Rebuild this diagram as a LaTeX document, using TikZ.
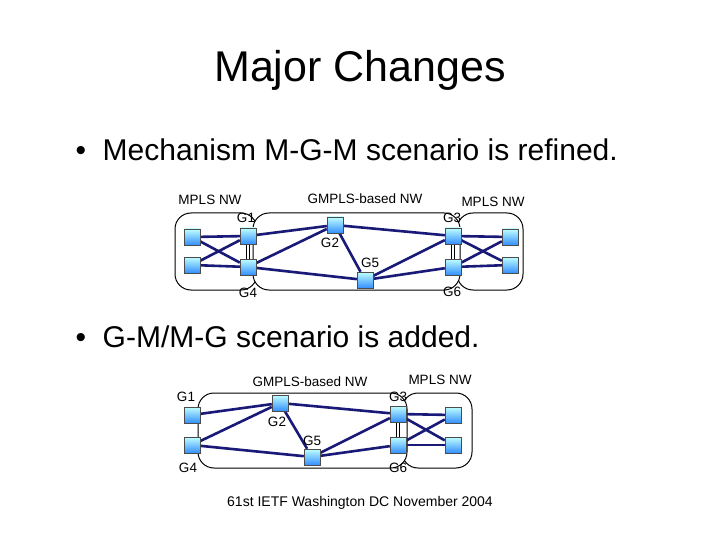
\documentclass[tikz,border=0pt]{standalone}
\usepackage{fontspec}
\setmainfont{Liberation Sans}
\begin{document}
\begin{tikzpicture}[x=1pt,y=-1pt,
  sw/.style={draw=black!70,minimum size=16pt,inner sep=0pt,top color=cyan!25,bottom color=blue!55!cyan!80},
  ln/.style={draw={rgb,255:red,25;green,25;blue,120},line width=2.6pt},
  dbl/.style={draw=black,double=white,double distance=2.5pt,line width=1pt},
  cloud/.style={draw=black,line width=1pt,rounded corners=16pt},
  lab/.style={font=\fontsize{13.5}{13.5}\selectfont,inner sep=0pt}]
\useasboundingbox (0,0) rectangle (720,540);
\node[font=\fontsize{43}{43}\selectfont] (title) at (360,70) {Major Changes};
\node[anchor=west,font=\fontsize{30}{30}\selectfont] (b1) at (72,150) {\textbullet\ \ Mechanism M-G-M scenario is refined.};
\node[anchor=west,font=\fontsize{30}{30}\selectfont] (b2) at (72,337) {\textbullet\ \ G-M/M-G scenario is added.};
\node[font=\fontsize{14}{14}\selectfont] (foot) at (360,503) {61st IETF Washington DC November 2004};
% diagram 1
\draw[cloud] (175,213) rectangle (257,290);
\draw[cloud] (457,213) rectangle (523,290);
\draw[cloud,fill=white] (253,213) rectangle (460,290);
\node[sw] (l1) at (192,237) {}; \node[sw] (l2) at (192,265) {};
\node[sw] (g1) at (248,236) {}; \node[sw] (g4) at (248,267) {};
\node[sw] (g2) at (335,225) {}; \node[sw] (g5) at (365,280) {};
\node[sw] (g3) at (453,236) {}; \node[sw] (g6) at (453,267) {};
\node[sw] (r1) at (510,237) {}; \node[sw] (r2) at (510,265) {};
\foreach \a/\b in {l1/g1,l1/g4,l2/g1,l2/g4,g1/g2,g4/g2,g2/g5,g2/g3,g4/g5,g5/g3,g5/g6,g3/r1,g3/r2,g6/r1,g6/r2}
  \draw[ln] (\a) -- (\b);
\draw[dbl] (g1) -- (g4); \draw[dbl] (g3) -- (g6);
\foreach \n in {l1,l2,g1,g2,g3,g4,g5,g6,r1,r2} \node[sw] at (\n) {};
\node[lab] (t1) at (210,200) {MPLS NW};
\node[lab] (t2) at (365,199) {GMPLS-based NW};
\node[lab] (t3) at (493,202) {MPLS NW};
\node[lab] (lg1) at (246,218) {G1}; \node[lab] (lg3) at (452,218) {G3};
\node[lab] (lg2) at (330,243) {G2}; \node[lab] (lg5) at (370,263) {G5};
\node[lab] (lg4) at (248,293) {G4}; \node[lab] (lg6) at (452,292) {G6};
% diagram 2
\draw[cloud] (402,393) rectangle (472,468);
\draw[cloud,fill=white] (198,393) rectangle (407,468);
\node[sw] (h1) at (192,415) {}; \node[sw] (h4) at (192,445) {};
\node[sw] (h2) at (280,403) {}; \node[sw] (h5) at (312,457) {};
\node[sw] (h3) at (398,414) {}; \node[sw] (h6) at (398,445) {};
\node[sw] (s1) at (453,415) {}; \node[sw] (s2) at (453,445) {};
\foreach \a/\b in {h1/h2,h4/h2,h4/h5,h2/h5,h2/h3,h5/h3,h5/h6,h3/s1,h3/s2,h6/s1,h6/s2}
  \draw[ln] (\a) -- (\b);
\draw[dbl] (h3) -- (h6);
\foreach \n in {h1,h2,h3,h4,h5,h6,s1,s2} \node[sw] at (\n) {};
\node[lab] (u2) at (310,382) {GMPLS-based NW};
\node[lab] (u3) at (440,380) {MPLS NW};
\node[lab] (lh1) at (186,397) {G1}; \node[lab] (lh4) at (188,468) {G4};
\node[lab] (lh2) at (277,422) {G2}; \node[lab] (lh5) at (312,441) {G5};
\node[lab] (lh3) at (398,397) {G3}; \node[lab] (lh6) at (398,468) {G6};
\end{tikzpicture}
\end{document}
